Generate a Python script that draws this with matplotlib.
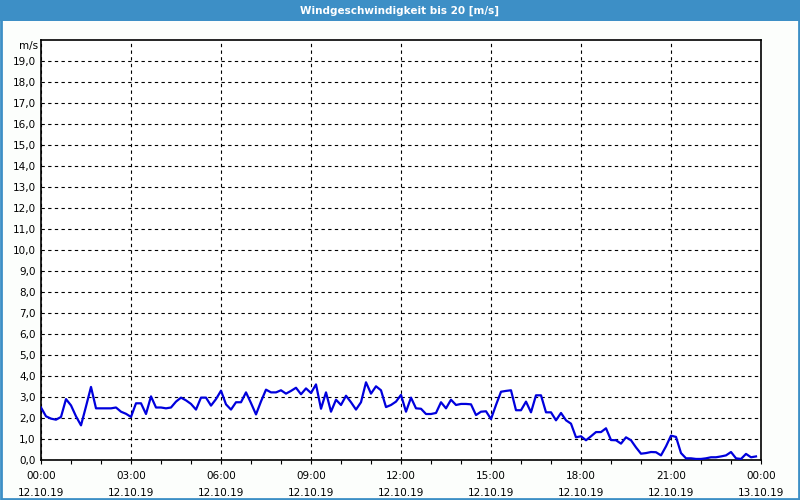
import numpy as np
import matplotlib
matplotlib.use("Agg")
import matplotlib.pyplot as plt
from matplotlib.patches import Rectangle

title = "Windgeschwindigkeit bis 20 [m/s]"
unit = "m/s"
x_tick_hours = [0, 3, 6, 9, 12, 15, 18, 21, 24]
x_tick_labels = ["00:00\n12.10.19", "03:00\n12.10.19", "06:00\n12.10.19",
                 "09:00\n12.10.19", "12:00\n12.10.19", "15:00\n12.10.19",
                 "18:00\n12.10.19", "21:00\n12.10.19", "00:00\n13.10.19"]
y_ticks = list(range(0, 20))
y_tick_labels = [f"{v},0" for v in y_ticks]

# wind speed every 10 minutes from 00:00 to 23:50
speed_00_04 = [2.5, 2.08, 1.97, 1.92, 2.05, 2.9, 2.6, 2.08, 1.65, 2.55, 3.48, 2.46,
               2.46, 2.46, 2.46, 2.5, 2.3, 2.2, 2.05, 2.7, 2.7, 2.19, 3.03, 2.5]
speed_04_08 = [2.5, 2.46, 2.5, 2.78, 2.97, 2.84, 2.67, 2.4, 2.97, 2.97, 2.59, 2.9,
               3.3, 2.65, 2.4, 2.75, 2.75, 3.22, 2.71, 2.17, 2.79, 3.35, 3.22, 3.22]
speed_08_12 = [3.32, 3.16, 3.29, 3.44, 3.13, 3.41, 3.19, 3.6, 2.44, 3.22, 2.3, 2.87,
               2.62, 3.06, 2.75, 2.4, 2.75, 3.7, 3.16, 3.51, 3.32, 2.52, 2.62, 2.78]
speed_12_16 = [3.1, 2.3, 2.97, 2.46, 2.44, 2.19, 2.19, 2.24, 2.75, 2.46, 2.87, 2.62,
               2.67, 2.67, 2.65, 2.14, 2.3, 2.32, 1.95, 2.62, 3.25, 3.29, 3.32, 2.37]
speed_16_20 = [2.37, 2.78, 2.27, 3.08, 3.08, 2.27, 2.27, 1.89, 2.24, 1.89, 1.73, 1.08,
               1.13, 0.94, 1.13, 1.33, 1.33, 1.51, 0.95, 0.94, 0.78, 1.08, 0.94, 0.6]
speed_20_24 = [0.3, 0.33, 0.38, 0.37, 0.22, 0.65, 1.16, 1.1, 0.33, 0.08, 0.08, 0.05,
               0.05, 0.08, 0.13, 0.13, 0.17, 0.22, 0.38, 0.08, 0.05, 0.29, 0.13, 0.17]

speed = speed_00_04 + speed_04_08 + speed_08_12 + speed_12_16 + speed_16_20 + speed_20_24
hours = np.arange(len(speed)) / 6.0

plt.rcParams['font.family'] = ['DejaVu Sans']
fig = plt.figure(figsize=(8, 5), dpi=100, facecolor="#FCFEFC")

# title bar
fig.patches.append(Rectangle((0, 0.958), 1, 0.042, transform=fig.transFigure,
                             facecolor="#3D8FC6", edgecolor="none", zorder=0))
fig.text(0.5, 0.979, title, ha="center", va="center", color="white",
         fontsize=7.5, fontweight="bold")
# outer border
fig.patches.append(Rectangle((0.0015, 0.003), 0.997, 0.994, transform=fig.transFigure,
                             facecolor="none", edgecolor="#3D8FC6", linewidth=2, zorder=5))

ax = fig.add_axes([41/800, 40/500, 720/800, 420/500])
ax.set_facecolor("white")
ax.plot(hours, speed, color="#0000DD", linewidth=1.6, zorder=3)

ax.set_xlim(0, 24)
ax.set_ylim(0, 20)
ax.set_xticks(x_tick_hours)
ax.set_xticklabels(x_tick_labels, fontsize=7.5, linespacing=1.9)
ax.set_xticks(np.arange(0, 25, 1), minor=True)
ax.set_yticks(y_ticks)
ax.set_yticklabels(y_tick_labels, fontsize=7.5)
ax.tick_params(axis="x", which="both", direction="out", length=3, width=0.8, pad=5)
ax.tick_params(axis="y", which="both", length=0, pad=4)
ax.text(-0.004, 19.72, unit, transform=ax.get_yaxis_transform(), ha="right", va="center",
        fontsize=7.5)

ax.grid(True, which="major", color="black", linestyle=(0, (3, 3)), linewidth=0.8)
for s in ax.spines.values():
    s.set_color("black")
    s.set_linewidth(1.2)

fig.savefig("out.png", dpi=100, facecolor=fig.get_facecolor())
